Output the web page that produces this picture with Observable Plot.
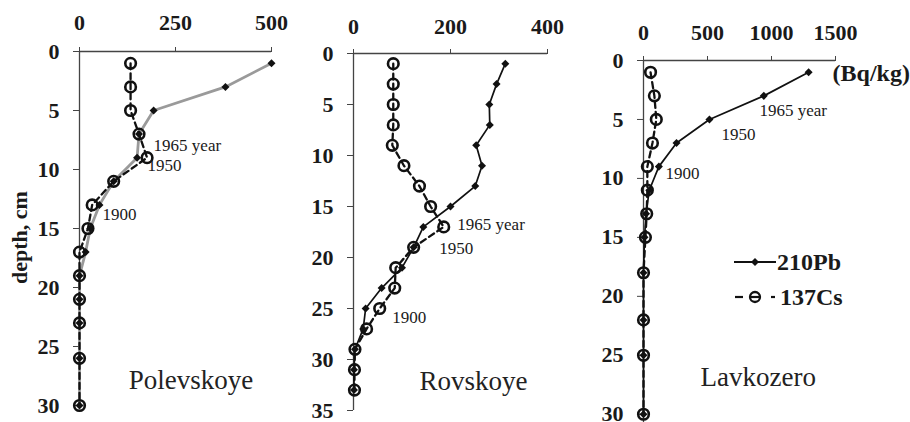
<!DOCTYPE html>
<html><head><meta charset="utf-8">
<script src="https://cdn.jsdelivr.net/npm/d3@7"></script>
<script src="https://cdn.jsdelivr.net/npm/@observablehq/plot@0.6"></script>
<style>
html,body{margin:0;padding:0;background:#fff;}
#chart{position:relative;width:910px;height:422px;overflow:hidden;background:#fff;}
#chart svg{position:absolute;left:0;top:0;}
#chart svg text{font-family:"Liberation Serif","DejaVu Serif",serif !important;}
</style></head><body><div id="chart"></div>
<script>
// ---------- Polevskoye ----------
const polDepth = [1, 3, 5, 7, 9, 11, 13, 15, 17, 19, 21, 23, 26, 30];
const polPb    = [500, 380, 193, 155, 150, 89, 52, 28, 16, 0, 0, 0, 0, 0];
const polCs    = [133, 133, 133, 155, 176, 89, 33, 22, 0, 0, 0, 0, 0, 0];
const polXTicks = [0, 250, 500];
const polYTicks = [0, 5, 10, 15, 20, 25, 30];
const polLabels = ["1965 year", "1950", "1900"];
const polLabelX = [193, 177, 60];
const polLabelY = [7.95, 9.64, 13.8];

// ---------- Rovskoye ----------
const rovDepth = [1, 3, 5, 7, 9, 11, 13, 15, 17, 19, 21, 23, 25, 27, 29, 31, 33];
const rovPb    = [313, 295, 280, 281, 253, 265, 251, 200, 144, 124, 100, 58, 25, 20, 3, 1, 1];
const rovCs    = [82, 82, 82, 82, 80, 104, 136, 159, 186, 124, 87, 85, 54, 27, 3, 2, 2];
const rovXTicks = [0, 200, 400];
const rovYTicks = [0, 5, 10, 15, 20, 25, 30, 35];
const rovLabels = ["1965 year", "1950", "1900"];
const rovLabelX = [214, 177, 80];
const rovLabelY = [16.8, 19.1, 25.9];

// ---------- Lavkozero ----------
const lavDepth = [1, 3, 5, 7, 9, 11, 13, 15, 18, 22, 25, 30];
const lavPb    = [1290, 940, 515, 258, 120, 45, 20, 8, 0, 0, 0, 0];
const lavCs    = [55, 85, 100, 70, 30, 30, 25, 15, 0, 0, 0, 0];
const lavXTicks = [0, 500, 1000, 1500];
const lavYTicks = [0, 5, 10, 15, 20, 25, 30];
const lavLabels = ["1965 year", "1950", "1900"];
const lavLabelX = [906, 609, 172];
const lavLabelY = [4.24, 6.27, 9.58];

const seriesNames = ["210Pb", "137Cs"];
const unitLabel = "(Bq/kg)";
const yTitle = "depth, cm";

const FONT = "Liberation Serif, DejaVu Serif, serif";

function panel(o) {
  const pb = o.depth.map((d, i) => ({depth: d, value: o.pb[i]}));
  const cs = o.depth.map((d, i) => ({depth: d, value: o.cs[i]}));
  const ann = o.labels.map((t, i) => ({text: t, x: o.lx[i], y: o.ly[i]}));
  const marks = [
    Plot.ruleY([0], {stroke: "#444", strokeWidth: 1.3}),
    Plot.ruleX([0], {stroke: "#444", strokeWidth: 1.3}),
    Plot.axisX(o.xTicks, {anchor: "top", tickSize: 5, tickPadding: o.xPad, label: null, tickFormat: d => String(d),
      stroke: "#444", fontSize: 22, fontWeight: "bold", fill: "#1a1a1a"}),
    Plot.axisY(o.yTicks, {anchor: "left", tickSize: 6, tickPadding: 14, label: null, tickFormat: d => String(d),
      stroke: "#444", fontSize: 22, fontWeight: "bold", fill: "#1a1a1a"}),
    Plot.line(pb, {x: "value", y: "depth", stroke: o.pbColor, strokeWidth: o.pbWidth, curve: "linear"}),
    Plot.line(cs, {x: "value", y: "depth", stroke: "#111", strokeWidth: 2.3, strokeDasharray: "6,4"}),
    Plot.dot(cs, {x: "value", y: "depth", r: 5.3, fill: "none", stroke: "#111", strokeWidth: 2.6}),
    Plot.dot(pb, {x: "value", y: "depth", symbol: "square", rotate: 45, r: 3.2, fill: "#111", stroke: "none"}),
    Plot.text(ann, {x: "x", y: "y", text: "text", textAnchor: "start", fontSize: 17, fontWeight: "normal", fill: "#1a1a1a"}),
    Plot.text([o.name], {x: o.nameX, y: o.nameY, text: d => d, textAnchor: "start", fontSize: 27, fontWeight: "normal", fill: "#222"})
  ];
  if (o.extra) marks.push(...o.extra);
  return Plot.plot({
    width: 910, height: 422,
    marginLeft: o.m[0], marginRight: o.m[1], marginTop: o.m[2], marginBottom: o.m[3],
    x: {domain: o.xDomain, axis: null},
    y: {domain: o.yDomain, reverse: true, axis: null},
    style: {fontFamily: FONT, fontSize: "22px", background: "transparent", color: "#1a1a1a", overflow: "visible"},
    marks
  });
}

const chart = document.getElementById("chart");

chart.appendChild(panel({
  depth: polDepth, pb: polPb, cs: polCs, xTicks: polXTicks, yTicks: polYTicks,
  labels: polLabels, lx: polLabelX, ly: polLabelY,
  name: "Polevskoye", nameX: 128, nameY: 27.9,
  m: [79, 639, 51, 17], xDomain: [0, 500], yDomain: [0, 30], xPad: 17,
  pbColor: "#9a9a9a", pbWidth: 2.8,
  extra: [Plot.text([yTitle], {frameAnchor: "left", textAnchor: "middle", text: d => d, rotate: -90, dx: -60, dy: 9, fontSize: 22, fontWeight: "bold", fill: "#1a1a1a"})]
}));

chart.appendChild(panel({
  depth: rovDepth, pb: rovPb, cs: rovCs, xTicks: rovXTicks, yTicks: rovYTicks,
  labels: rovLabels, lx: rovLabelX, ly: rovLabelY,
  name: "Rovskoye", nameX: 136, nameY: 32.1,
  m: [353, 363, 53, 12], xDomain: [0, 400], yDomain: [0, 35], xPad: 15,
  pbColor: "#111", pbWidth: 1.7
}));

chart.appendChild(panel({
  depth: lavDepth, pb: lavPb, cs: lavCs, xTicks: lavXTicks, yTicks: lavYTicks,
  labels: lavLabels, lx: lavLabelX, ly: lavLabelY,
  name: "Lavkozero", nameX: 445, nameY: 26.9,
  m: [643, 75, 60, 0], xDomain: [0, 1500], yDomain: [0, 30.7], xPad: 16,
  pbColor: "#111", pbWidth: 1.7,
  extra: [Plot.text([unitLabel], {x: 1477, y: 1.1, text: d => d, textAnchor: "start", fontSize: 24, fontWeight: "bold", fill: "#1a1a1a"})]
}));

// ---------- Legend ----------
const leg = d3.select(chart).append("svg")
  .attr("width", 910).attr("height", 422);
const lg = leg.append("g");
lg.append("line").attr("x1", 734).attr("x2", 776).attr("y1", 262).attr("y2", 262)
  .attr("stroke", "#111").attr("stroke-width", 2);
lg.append("path").attr("d", "M755,258L759,262L755,266L751,262Z").attr("fill", "#111");
lg.append("text").attr("x", 777).attr("y", 262).attr("dy", "0.34em")
  .attr("font-size", 24).attr("font-weight", "bold").attr("fill", "#1a1a1a").text(seriesNames[0]);
lg.append("line").attr("x1", 735).attr("x2", 743).attr("y1", 297).attr("y2", 297)
  .attr("stroke", "#111").attr("stroke-width", 2.2);
lg.append("line").attr("x1", 750).attr("x2", 760).attr("y1", 297).attr("y2", 297)
  .attr("stroke", "#111").attr("stroke-width", 2.2);
lg.append("circle").attr("cx", 755).attr("cy", 297).attr("r", 5)
  .attr("fill", "none").attr("stroke", "#111").attr("stroke-width", 2.3);
lg.append("line").attr("x1", 771).attr("x2", 775).attr("y1", 297).attr("y2", 297)
  .attr("stroke", "#111").attr("stroke-width", 2.2);
lg.append("text").attr("x", 780).attr("y", 297).attr("dy", "0.34em")
  .attr("font-size", 24).attr("font-weight", "bold").attr("fill", "#1a1a1a").text(seriesNames[1]);
</script>
</body></html>
